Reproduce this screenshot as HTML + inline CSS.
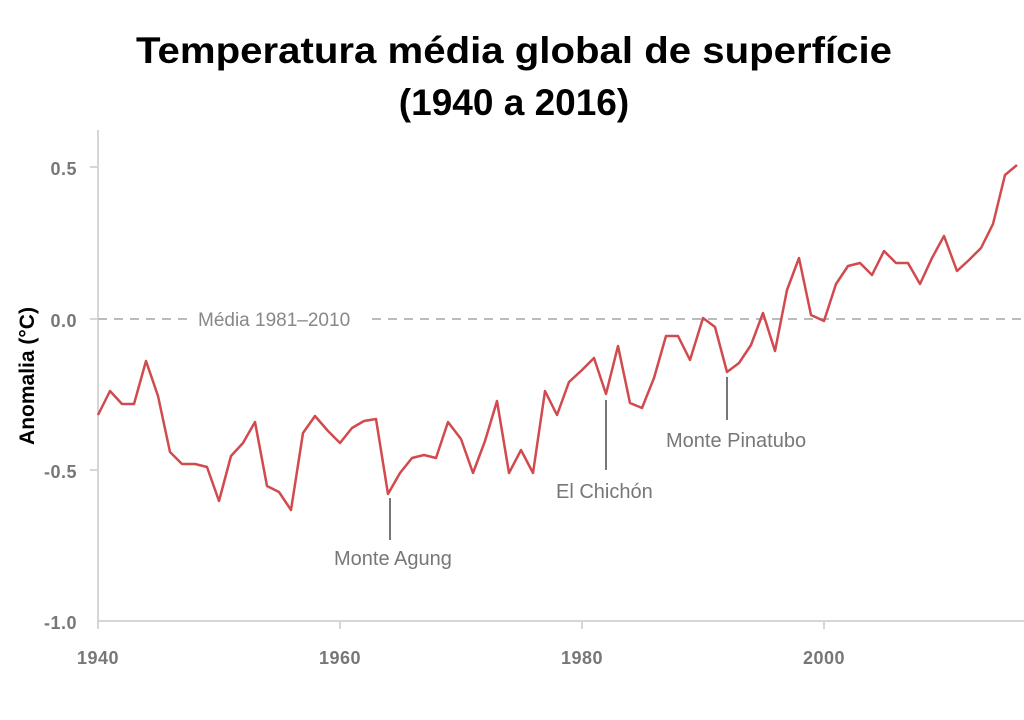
<!DOCTYPE html>
<html><head><meta charset="utf-8"><style>
html,body{margin:0;padding:0;background:#fff;width:1024px;height:720px;overflow:hidden}
</style></head><body>
<svg width="1024" height="720" xmlns="http://www.w3.org/2000/svg" font-family="Liberation Sans, sans-serif">
<text x="514" y="63" text-anchor="middle" font-size="37" font-weight="bold" fill="#000" textLength="756" lengthAdjust="spacingAndGlyphs">Temperatura média global de superfície</text>
<text x="514" y="115" text-anchor="middle" font-size="37" font-weight="bold" fill="#000">(1940 a 2016)</text>
<line x1="98" y1="130" x2="98" y2="622" stroke="#d6d6d6" stroke-width="2"/>
<line x1="97" y1="621" x2="1024" y2="621" stroke="#d6d6d6" stroke-width="2"/>
<g stroke="#d6d6d6" stroke-width="2">
<line x1="90" y1="167" x2="98" y2="167"/><line x1="90" y1="319" x2="98" y2="319"/><line x1="90" y1="470" x2="98" y2="470"/>
<line x1="340" y1="621" x2="340" y2="629"/><line x1="582" y1="621" x2="582" y2="629"/><line x1="824" y1="621" x2="824" y2="629"/><line x1="98" y1="621" x2="98" y2="629"/>
</g>
<g font-size="18" font-weight="bold" fill="#777" text-anchor="end" letter-spacing="0.5">
<text x="77" y="175">0.5</text><text x="77" y="327">0.0</text><text x="77" y="478">-0.5</text><text x="77" y="629">-1.0</text>
</g>
<g font-size="18" font-weight="bold" fill="#777" text-anchor="middle" letter-spacing="0.5">
<text x="98" y="664">1940</text><text x="340" y="664">1960</text><text x="582" y="664">1980</text><text x="824" y="664">2000</text>
</g>
<text transform="translate(34,376) rotate(-90)" text-anchor="middle" font-size="21" font-weight="bold" fill="#000">Anomalia (°C)</text>
<line x1="98" y1="319" x2="190" y2="319" stroke="#bbb" stroke-width="2" stroke-dasharray="9,7"/>
<line x1="372" y1="319" x2="1024" y2="319" stroke="#bbb" stroke-width="2" stroke-dasharray="9,7"/>
<text x="198" y="326" font-size="19" fill="#888">Média 1981–2010</text>
<g stroke="#777" stroke-width="2">
<line x1="390" y1="498" x2="390" y2="540"/>
<line x1="606" y1="400" x2="606" y2="470"/>
<line x1="727" y1="377" x2="727" y2="420"/>
</g>
<g font-size="20" fill="#777">
<text x="334" y="565">Monte Agung</text>
<text x="556" y="498">El Chichón</text>
<text x="666" y="447">Monte Pinatubo</text>
</g>
<polyline fill="none" stroke="#d04a4e" stroke-width="2.5" stroke-linejoin="round" points="98,415 110,391 122,404 134,404 146,361 158,396 170,452 182,464 195,464 207,467 219,501 231,456 243,443 255,422 267,486 279,492 291,510 303,433 315,416 328,431 340,443 352,428 364,421 376,419 388,494 400,473 412,458 424,455 436,458 448,422 461,439 473,473 485,441 497,401 509,473 521,450 533,473 545,391 557,415 569,382 582,370 594,358 606,394 618,346 630,403 642,408 654,378 666,336 678,336 690,360 703,318 715,327 727,372 739,363 751,345 763,313 775,351 787,290 799,258 811,315 824,321 836,284 848,266 860,263 872,275 884,251 896,263 908,263 920,284 932,258 944,236 957,271 969,260 981,248 993,224 1005,175 1017,165"/>
</svg>
</body></html>
